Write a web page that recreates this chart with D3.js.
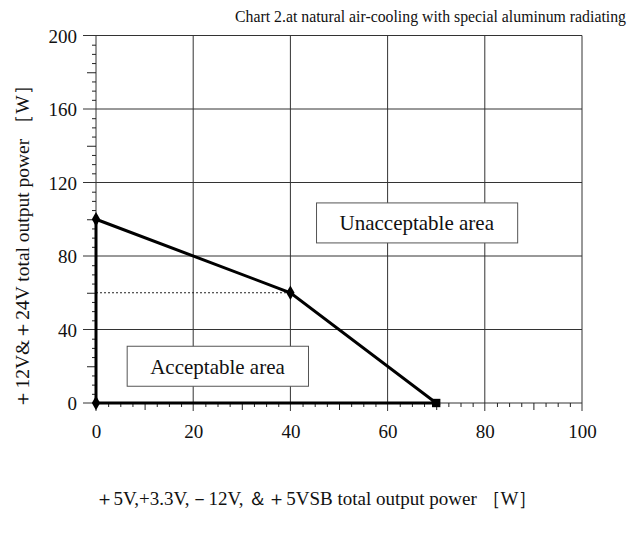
<!DOCTYPE html>
<html><head><meta charset="utf-8">
<script src="https://cdn.jsdelivr.net/npm/d3@7"></script>
<style>body{margin:0;background:#fff}svg{display:block}text{font-family:"Liberation Serif","Times New Roman",serif;fill:#111}</style>
</head><body>
<svg id="c" width="640" height="538"></svg>
<script>
const boundaryX = [0, 0, 40, 70, 0];
const boundaryY = [0, 100, 60, 0, 0];
const markerX = [0, 0, 40, 70];
const markerY = [0, 100, 60, 0];
const markerShape = ["diamond", "diamond", "diamond", "square"];
const xTicks = [0, 20, 40, 60, 80, 100];
const yTicks = [0, 40, 80, 120, 160, 200];
const refX = [0, 40];
const refY = [60, 60];
const titleText = "Chart 2.at natural air-cooling with special aluminum radiating";
const xTitle = "＋5V,+3.3V,－12V, ＆＋5VSB total output power ［W］";
const yTitle = "＋12V&＋24V total output power ［W］";
const areaLabels = ["Unacceptable area", "Acceptable area"];
const areaX = [66, 25];
const areaY = [98, 20];

const svg = d3.select("#c");
const m = {l:96, r:58, t:35.5, b:135};
const W = 640 - m.l - m.r, H = 538 - m.t - m.b;
const x = d3.scaleLinear().domain([0,100]).range([m.l, m.l+W]);
const y = d3.scaleLinear().domain([0,200]).range([m.t+H, m.t]);

const FF = "'Liberation Serif','Times New Roman',serif";
const serif = s => s.style("font-family",FF).attr("fill","#111");

// grid
const g = svg.append("g");
xTicks.forEach(v => g.append("line").attr("x1",x(v)).attr("x2",x(v)).attr("y1",y(0)+8).attr("y2",y(200)).attr("stroke","#333").attr("stroke-width",1));
yTicks.forEach(v => g.append("line").attr("x1",x(0)-13).attr("x2",x(100)).attr("y1",y(v)).attr("y2",y(v)).attr("stroke","#333").attr("stroke-width",1));

// minor ticks
const yMinor = d3.range(0, 201, 5).filter(v => v % 20 !== 0);
const yMid = d3.range(0, 201, 20).filter(v => v % 40 !== 0);
svg.append("g").attr("transform",`translate(${x(0)},0)`).call(d3.axisLeft(y).tickValues(yMinor).tickSize(4).tickFormat(""))
  .call(s=>{s.select(".domain").remove(); s.selectAll("line").attr("stroke","#222");});
svg.append("g").attr("transform",`translate(${x(0)},0)`).call(d3.axisLeft(y).tickValues(yMid).tickSize(9).tickFormat(""))
  .call(s=>{s.select(".domain").remove(); s.selectAll("line").attr("stroke","#222");});
const xMinor = d3.range(0, 100.1, 2.5).filter(v => v % 10 !== 0);
const xMid = d3.range(10, 100, 20);
svg.append("g").attr("transform",`translate(0,${y(0)})`).call(d3.axisBottom(x).tickValues(xMinor).tickSize(4).tickFormat(""))
  .call(s=>{s.select(".domain").remove(); s.selectAll("line").attr("stroke","#222");});
svg.append("g").attr("transform",`translate(0,${y(0)})`).call(d3.axisBottom(x).tickValues(xMid).tickSize(7).tickFormat(""))
  .call(s=>{s.select(".domain").remove(); s.selectAll("line").attr("stroke","#222");});
svg.append("g").attr("font-family",FF).attr("transform",`translate(0,${y(0)})`).call(d3.axisBottom(x).tickValues(xTicks).tickSize(0).tickPadding(22).tickFormat(d3.format("d")))
  .call(s=>{s.attr("font-family",FF); s.select(".domain").remove(); s.selectAll("text").attr("font-size",19).call(serif);});
svg.append("g").attr("transform",`translate(${x(0)},0)`).call(d3.axisLeft(y).tickValues(yTicks).tickSize(0).tickPadding(19).tickFormat(d3.format("d")))
  .call(s=>{s.attr("font-family",FF); s.select(".domain").remove(); s.selectAll("text").attr("font-size",19).attr("dy","0.35em").call(serif);});

// dotted reference
svg.append("path").datum(refX.map((v,i)=>[v,refY[i]]))
  .attr("d", d3.line().x(d=>x(d[0])).y(d=>y(d[1])))
  .attr("stroke","#222").attr("stroke-width",1).attr("stroke-dasharray","2,2").attr("fill","none");

// boundary
svg.append("path").datum(boundaryX.map((v,i)=>[v,boundaryY[i]]))
  .attr("d", d3.line().x(d=>x(d[0])).y(d=>y(d[1])))
  .attr("stroke","#000").attr("stroke-width",3).attr("fill","none").attr("stroke-linejoin","miter");

// markers
markerX.forEach((v,i)=>{
  const sym = markerShape[i]==="square" ? d3.symbolSquare : d3.symbolDiamond;
  svg.append("path").attr("d", d3.symbol().type(sym).size(markerShape[i]==="square"?70:60)())
    .attr("transform",`translate(${x(v)},${y(markerY[i])})`).attr("fill","#000");
});

// area labels
areaLabels.forEach((t,i)=>{
  const gg = svg.append("g");
  const tx = gg.append("text").attr("x",x(areaX[i])).attr("y",y(areaY[i])).attr("text-anchor","middle").attr("dy","0.35em").attr("font-size",21).text(t);
  const bb = tx.node().getBBox();
  gg.insert("rect","text").attr("x",bb.x-23).attr("y",y(areaY[i])-20).attr("width",bb.width+46).attr("height",40)
    .attr("fill","#fff").attr("stroke","#555").attr("stroke-width",1);
});

// titles
svg.append("text").attr("x",626).attr("y",22).attr("text-anchor","end").attr("font-size",15.8).text(titleText);
svg.append("text").attr("x",316).attr("y",505).attr("text-anchor","middle").attr("font-size",19).text(xTitle);
svg.append("text").attr("transform",`translate(29,${242}) rotate(-90)`).attr("text-anchor","middle").attr("font-size",19.5).text(yTitle);
</script>
</body></html>
